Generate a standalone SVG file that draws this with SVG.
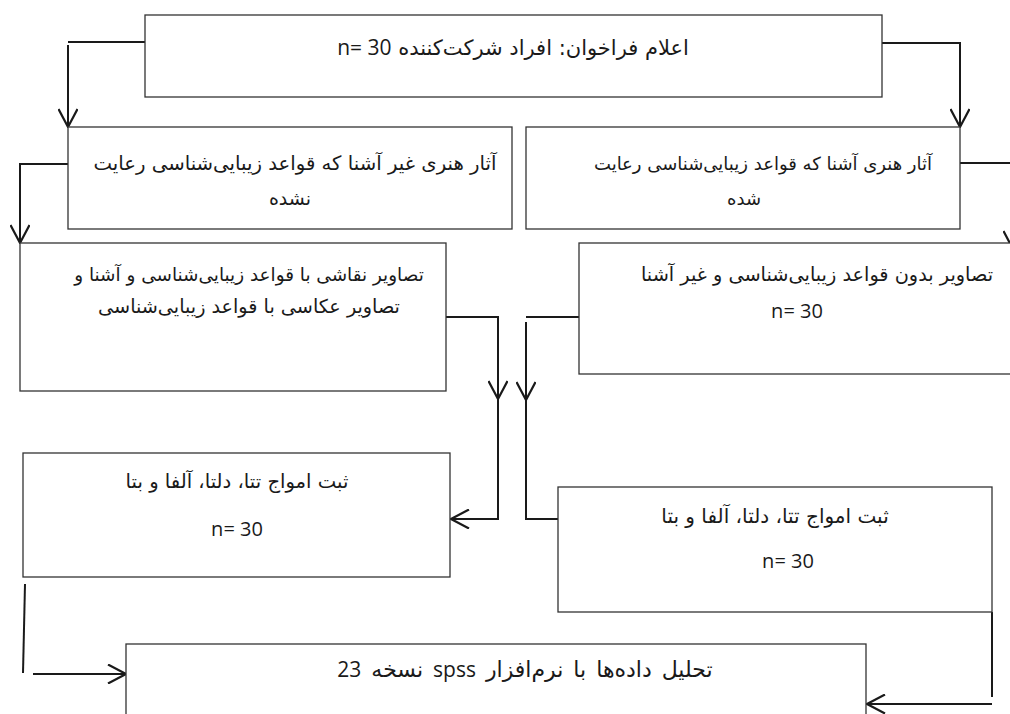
<svg xmlns="http://www.w3.org/2000/svg" width="1010" height="714" viewBox="0 0 1010 714">
<style>
  .box { fill: #ffffff; stroke: #333333; stroke-width: 1.3; }
  .t { font-family: "DejaVu Sans", "Noto Sans", sans-serif; font-size: 19px; fill: #1a1a1a; direction: rtl; text-anchor: middle; }
  .n { font-family: "Open Sans", "Noto Sans", sans-serif; font-size: 20px; fill: #1a1a1a; text-anchor: middle; }
  .l { font-family: "Open Sans", "Noto Sans", sans-serif; font-size: 20px; }
  .c { fill: none; stroke: #1a1a1a; stroke-width: 2; }
</style>
<defs>
  <marker id="ah" markerUnits="userSpaceOnUse" viewBox="0 0 20 20" refX="19" refY="10" markerWidth="20" markerHeight="20" orient="auto">
    <path d="M1,0.5 L19,10 L1,19.5" fill="none" stroke="#1a1a1a" stroke-width="2.2"/>
  </marker>
</defs>
<rect width="1010" height="714" fill="#ffffff"/>

<g id="connectors">
  <path class="c" d="M145,42 H68"/>
  <path class="c" d="M68,45 V127" marker-end="url(#ah)"/>
  <path class="c" d="M882,43 H960 V127" marker-end="url(#ah)"/>
  <path class="c" d="M68,164 H20 V243" marker-end="url(#ah)"/>
  <path class="c" d="M960,163 H1013 V249" marker-end="url(#ah)"/>
  <path class="c" d="M446,317 H498 V399" marker-end="url(#ah)"/>
  <path class="c" d="M498,399 V519 H451" marker-end="url(#ah)"/>
  <path class="c" d="M579,317 H526"/>
  <path class="c" d="M526,322 V400" marker-end="url(#ah)"/>
  <path class="c" d="M526,400 V519 H578" marker-end="url(#ah)"/>
  <path class="c" d="M25,584 L23,673"/>
  <path class="c" d="M33,674 H126" marker-end="url(#ah)"/>
  <path class="c" d="M992,612 V697"/>
  <path class="c" d="M992,704 H867" marker-end="url(#ah)"/>
</g>

<g id="n1">
  <rect class="box" x="145" y="15" width="737" height="82"/>
  <text class="t" x="513" y="55" style="font-size:21px">اعلام فراخوان: افراد شرکت‌کننده <tspan class="l" style="font-size:21px">n= 30</tspan></text>
</g>
<g id="n2">
  <rect class="box" x="68" y="127" width="444" height="102"/>
  <text class="t" x="295" y="170" style="font-size:19.7px">آثار هنری غیر آشنا که قواعد زیبایی‌شناسی رعایت</text>
  <text class="t" x="290" y="205">نشده</text>
</g>
<g id="n3">
  <rect class="box" x="526" y="127" width="434" height="102"/>
  <text class="t" x="763" y="170" style="font-size:18px">آثار هنری آشنا که قواعد زیبایی‌شناسی رعایت</text>
  <text class="t" x="744" y="205" style="font-size:18px">شده</text>
</g>
<g id="n4">
  <rect class="box" x="20" y="243" width="426" height="148"/>
  <text class="t" x="249" y="281" style="font-size:18.4px">تصاویر نقاشی با قواعد زیبایی‌شناسی و آشنا و</text>
  <text class="t" x="249" y="313" style="font-size:19.2px">تصاویر عکاسی با قواعد زیبایی‌شناسی</text>
</g>
<g id="n5">
  <rect class="box" x="579" y="243" width="441" height="131"/>
  <text class="t" x="817" y="281" style="font-size:19.3px">تصاویر بدون قواعد زیبایی‌شناسی و غیر آشنا</text>
  <text class="n" x="797" y="318">n= 30</text>
</g>
<g id="n6">
  <rect class="box" x="23" y="453" width="427" height="124"/>
  <text class="t" x="237" y="488" style="font-size:19.6px">ثبت امواج تتا، دلتا، آلفا و بتا</text>
  <text class="n" x="237" y="536">n= 30</text>
</g>
<g id="n7">
  <rect class="box" x="558" y="487" width="434" height="125"/>
  <text class="t" x="775" y="523" style="font-size:20px">ثبت امواج تتا، دلتا، آلفا و بتا</text>
  <text class="n" x="788" y="568">n= 30</text>
</g>
<g id="n8">
  <rect class="box" x="126" y="644" width="740" height="80"/>
  <text class="t" x="525" y="677" style="font-size:22px; word-spacing:3px">تحلیل داده‌ها با نرم‌افزار <tspan class="l" style="font-size:21px">spss</tspan> نسخه <tspan class="l" style="font-size:21px">23</tspan></text>
</g>
</svg>
